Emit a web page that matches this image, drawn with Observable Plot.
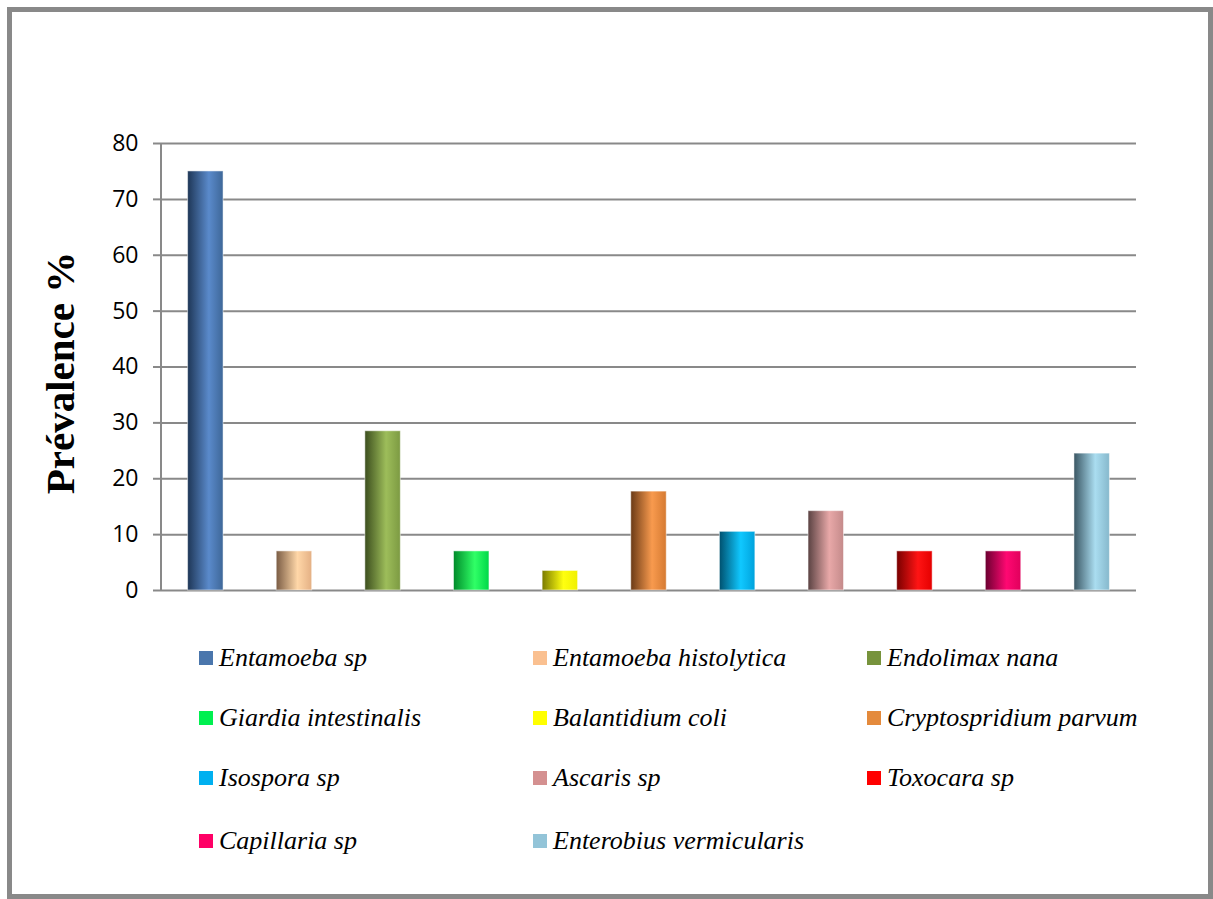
<!DOCTYPE html>
<html>
<head>
<meta charset="utf-8">
<script src="https://cdn.jsdelivr.net/npm/d3@7"></script>
<script src="https://cdn.jsdelivr.net/npm/@observablehq/plot@0.6"></script>
<style>
  html, body { margin: 0; padding: 0; background: #fff; overflow: hidden; }
  #page { position: relative; width: 1213px; height: 899px; overflow: hidden; }
  #frame { position: absolute; left: 7px; top: 7px; width: 1196px; height: 882px; border: 5px solid #898989; box-sizing: content-box; }
  #chart { position: absolute; left: 0; top: 0; }
  #ylabel { position: absolute; left: 60px; top: 373px; transform: translate(-50%, -50%) rotate(-90deg);
    font-family: "Liberation Serif", "Times New Roman", serif; font-weight: bold; font-size: 41px; white-space: nowrap; color: #000; }
  #legend { position: absolute; left: 199px; top: 643px; }
  .item { position: absolute; display: flex; align-items: center; white-space: nowrap;
    font-family: "Liberation Serif", "Times New Roman", serif; font-style: italic; font-size: 26px; color: #000; }
  .sw { width: 14px; height: 14px; margin-right: 6px; display: inline-block; }
</style>
</head>
<body>
<div id="page">
  <div id="frame"></div>
  <div id="chart"></div>
  <div id="ylabel">Prévalence %</div>
  <div id="legend"></div>
</div>
<script>
// Data
const parasites = [
  "Entamoeba sp", "Entamoeba histolytica", "Endolimax nana",
  "Giardia intestinalis", "Balantidium coli", "Cryptospridium parvum",
  "Isospora sp", "Ascaris sp", "Toxocara sp",
  "Capillaria sp", "Enterobius vermicularis"
];
const prevalence = [75, 7, 28.5, 7, 3.5, 17.7, 10.5, 14.2, 7, 7, 24.5];
const yTicks = [0, 10, 20, 30, 40, 50, 60, 70, 80];

// Colours: legend swatch and bar gradient stops (dark edge, highlight, right edge)
const swatchColors = ["#4A76AC", "#FAC090", "#77933C", "#00F050", "#FFFF00", "#E48A3C",
  "#00B0F0", "#D49090", "#FF0000", "#FF0066", "#93C4D8"];
const gradDark = ["#1E3656", "#7A5C44", "#3C4E1E", "#008A2A", "#7A7A00", "#6A3A16",
  "#00506E", "#5A4242", "#780000", "#6A0030", "#3A5663"];
const gradLight = ["#5A8ACB", "#FFD7A8", "#9DBD5A", "#30FF66", "#FFFF10", "#F89A4E",
  "#10C8FF", "#E8A8A8", "#FF1414", "#FF0872", "#AADDF0"];
const gradRight = ["#3E6798", "#E4B084", "#7C9A42", "#00D848", "#F0F000", "#D57A32",
  "#00A2DC", "#C48A8A", "#E40000", "#E0005C", "#86B8CC"];

const data = parasites.map((name, i) => ({name, value: prevalence[i]}));

function defsMark() {
  const ns = "http://www.w3.org/2000/svg";
  const defs = document.createElementNS(ns, "defs");
  parasites.forEach((_, i) => {
    const g = document.createElementNS(ns, "linearGradient");
    g.setAttribute("id", "g" + i);
    g.setAttribute("x1", "0"); g.setAttribute("x2", "1");
    g.setAttribute("y1", "0"); g.setAttribute("y2", "0");
    [[0, gradDark[i]], [0.6, gradLight[i]], [1, gradRight[i]]].forEach(([o, c]) => {
      const s = document.createElementNS(ns, "stop");
      s.setAttribute("offset", o);
      s.setAttribute("stop-color", c);
      g.appendChild(s);
    });
    defs.appendChild(g);
  });
  return defs;
}

function axisLine(index, scales, values, dims) {
  const ns = "http://www.w3.org/2000/svg";
  const y = scales.y;
  const l = document.createElementNS(ns, "line");
  const x0 = dims.marginLeft;
  l.setAttribute("x1", x0); l.setAttribute("x2", x0);
  l.setAttribute("y1", y(yTicks[yTicks.length - 1])); l.setAttribute("y2", y(0));
  l.setAttribute("stroke", "#898989");
  l.setAttribute("stroke-width", 2);
  return l;
}

const plot = Plot.plot({
  width: 1213,
  height: 620,
  marginLeft: 161,
  marginRight: 77,
  marginTop: 143,
  marginBottom: 30,
  style: {background: "transparent"},
  x: {domain: parasites, paddingInner: 0.6, paddingOuter: 0.3, round: false, axis: null},
  y: {domain: [0, 80], ticks: yTicks},
  color: {domain: parasites, range: parasites.map((_, i) => `url(#g${i})`)},
  marks: [
    defsMark,
    Plot.gridY(yTicks, {stroke: "#898989", strokeWidth: 2, strokeOpacity: 1}),
    axisLine,
    Plot.axisY(yTicks, {tickSize: 8, tickPadding: 15, fontSize: 23, stroke: "#898989", strokeWidth: 2,
      fontFamily: "'Open Sans', 'Liberation Sans', sans-serif", fill: "#000", label: null}),
    Plot.barY(data, {x: "name", y: "value", fill: "name", stroke: "#ffffff", strokeOpacity: 0.5, strokeWidth: 1})
  ]
});
plot.querySelectorAll("text").forEach(t => t.setAttribute("fill", "#000"));
document.getElementById("chart").appendChild(plot);

// Legend: 3 columns
const legend = document.getElementById("legend");
const colStep = 334, rowTops = [0, 60, 120, 183];
parasites.forEach((name, i) => {
  const item = document.createElement("div");
  item.className = "item";
  item.style.left = (i % 3) * colStep + "px";
  item.style.top = rowTops[Math.floor(i / 3)] + "px";
  const sw = document.createElement("span");
  sw.className = "sw";
  sw.style.background = swatchColors[i];
  item.appendChild(sw);
  item.appendChild(document.createTextNode(name));
  legend.appendChild(item);
});
</script>
</body>
</html>
